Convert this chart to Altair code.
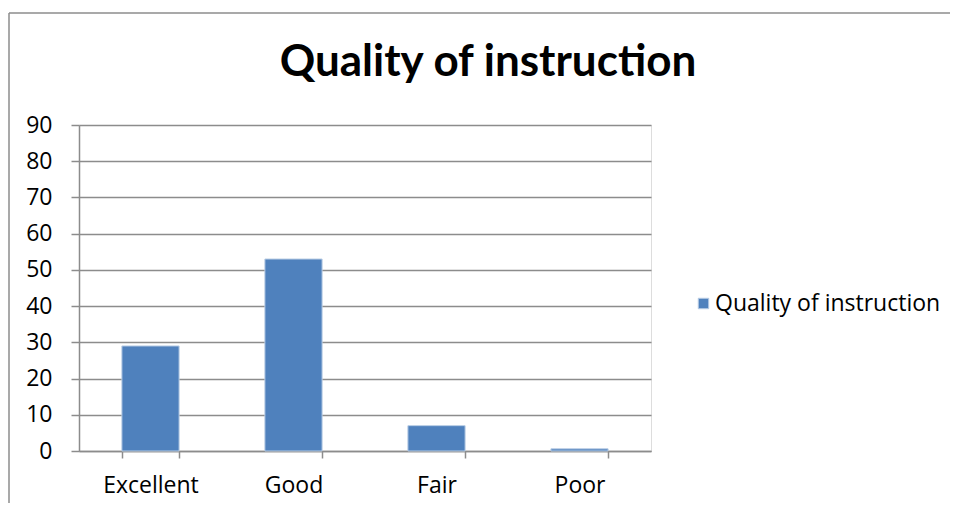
import altair as alt
import pandas as pd

categories = ["Excellent", "Good", "Fair", "Poor"]
values = [29, 53, 7, 0.6]
series_name = "Quality of instruction"
title_text = "Quality of instruction"
y_ticks = [0, 10, 20, 30, 40, 50, 60, 70, 80, 90]

df = pd.DataFrame({"category": categories, "value": values, "series": [series_name] * len(categories)})

FONT = "Open Sans"
TFONT = "Lato"
GRID = "#8c8c8c"
FS = 23

bars = alt.Chart(df).mark_bar(
    stroke="#b9cde5", strokeWidth=1
).encode(
    x=alt.X("category:N", sort=categories, title=None,
            scale=alt.Scale(paddingInner=0.6, paddingOuter=0.3),
            axis=alt.Axis(labelAngle=0, labelFontSize=FS, labelFont=FONT, labelColor="#000",
                          labelPadding=16, tickBand="extent", tickSize=7, tickColor=GRID,
                          domainColor=GRID, domainWidth=1.5, tickWidth=1.5, grid=False)),
    y=alt.Y("value:Q", title=None,
            scale=alt.Scale(domain=[0, 90], nice=False),
            axis=alt.Axis(values=y_ticks, labelFontSize=FS, labelFont=FONT, labelColor="#000",
                          labelPadding=19, tickSize=8, tickColor=GRID, tickWidth=1.5,
                          domainColor=GRID, domainWidth=1.5,
                          grid=True, gridColor=GRID, gridWidth=1.5)),
    color=alt.Color("series:N", title=None,
                    scale=alt.Scale(range=["#4f81bd"]),
                    legend=alt.Legend(orient="none", legendX=613, legendY=167,
                                      symbolType="square", symbolSize=110,
                                      symbolStrokeColor="#b9cde5", symbolStrokeWidth=1,
                                      labelFontSize=23, labelFont=FONT, labelColor="#000",
                                      labelLimit=400, labelOffset=0)),
)

deco = alt.Data(values=[{"k": 1}])
top_border = alt.Chart(deco).mark_rule(color="#8c8c8c", strokeWidth=1.5).encode(
    x=alt.value(-70), x2=alt.value(880), y=alt.value(-112)
)
left_border = alt.Chart(deco).mark_rule(color="#8c8c8c", strokeWidth=1.5).encode(
    x=alt.value(-70), y=alt.value(-112), y2=alt.value(386)
)
title_mark = alt.Chart(deco).mark_text(
    font=TFONT, fontSize=44, fontWeight="bold", color="#000",
    align="center", baseline="alphabetic"
).encode(
    x=alt.value(409), y=alt.value(-49), text=alt.value(title_text)
)

chart = alt.layer(bars, top_border, left_border, title_mark).properties(
    width=572, height=326,
    autosize=alt.AutoSizeParams(type="none"),
    padding={"left": 71, "top": 117, "right": 299, "bottom": 52},
).configure_view(stroke=None).configure(background="white")

chart.save("out.html", embed_options={"renderer": "svg", "actions": False})
